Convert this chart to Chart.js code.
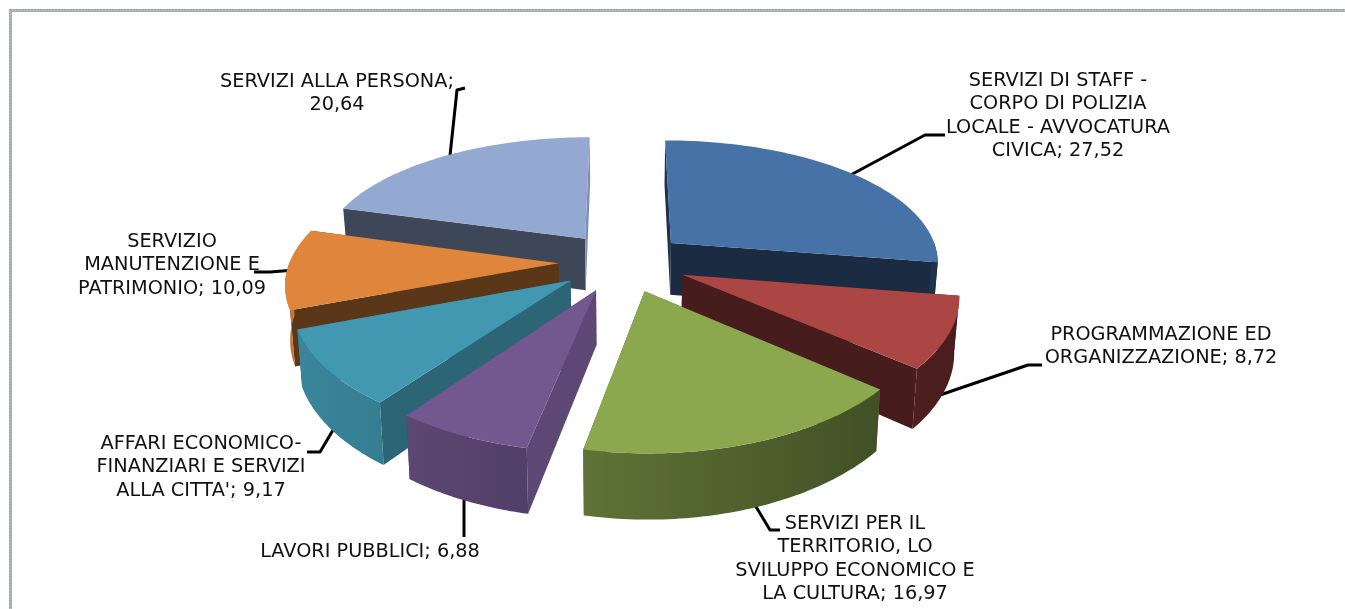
<!DOCTYPE html>
<html>
<head>
<meta charset="utf-8">
<title>Pie</title>
<script src="https://cdn.jsdelivr.net/npm/chart.js@4"></script>
<style>
    html, body { margin: 0; padding: 0; background: #fff; overflow: hidden; }
    canvas { display: block; }
</style>
</head>
<body>
<canvas id="pieCanvas" width="1345" height="609"></canvas>
<script>
const categories = [
    'SERVIZI DI STAFF - CORPO DI POLIZIA LOCALE - AVVOCATURA CIVICA',
    'PROGRAMMAZIONE ED ORGANIZZAZIONE',
    'SERVIZI PER IL TERRITORIO, LO SVILUPPO ECONOMICO E LA CULTURA',
    'LAVORI PUBBLICI',
    "AFFARI ECONOMICO-FINANZIARI E SERVIZI ALLA CITTA'",
    'SERVIZIO MANUTENZIONE E PATRIMONIO',
    'SERVIZI ALLA PERSONA'
];
const values = [27.52, 8.72, 16.97, 6.88, 9.17, 10.09, 20.64];
const colors = ['#4672a8', '#ab4644', '#8ba84f', '#72588f', '#4198b0', '#df853c', '#93a9d1'];

// how each label wraps, {v} is the value
const labelLines = [
    ['SERVIZI DI STAFF -', 'CORPO DI POLIZIA', 'LOCALE - AVVOCATURA', 'CIVICA; {v}'],
    ['PROGRAMMAZIONE ED', 'ORGANIZZAZIONE; {v}'],
    ['SERVIZI PER IL', 'TERRITORIO, LO', 'SVILUPPO ECONOMICO E', 'LA CULTURA; {v}'],
    ['LAVORI PUBBLICI; {v}'],
    ['AFFARI ECONOMICO-', 'FINANZIARI E SERVIZI', "ALLA CITTA'; {v}"],
    ['SERVIZIO', 'MANUTENZIONE E', 'PATRIMONIO; {v}'],
    ['SERVIZI ALLA PERSONA;', '{v}']
];
const labelPos = [[1058, 81], [1161, 335], [855, 524], [370, 552], [201, 444], [172, 242], [337, 82]];
const leaders = [
    [[845, 178], [925, 135], [945, 135]],
    [[940, 395], [1028, 365], [1042, 365]],
    [[752, 500], [770, 530], [780, 530]],
    [[464, 490], [464, 537]],
    [[336, 425], [320, 452], [307, 452]],
    [[295, 270], [270, 272], [254, 272]],
    [[449, 165], [457, 90], [465, 88]]
];
// shade of the two flat cut faces of each slice
const wallShade = [[0.45, 0.39], [0.41, 0.41], [0.6, 0.6], [0.82, 0.82], [0.67, 0.67], [0.41, 0.41], [0.42, 0.85]];
const drawOrder = [0, 6, 5, 1, 4, 2, 3];

const RX = 269, RY = 125, PERSP_X = 0.14, PERSP_Y = 0.1625, DEPTH = 53, SHRINK = 0.015;

function shade(hex, f) {
    let n = parseInt(hex.slice(1), 16);
    return `rgb(${Math.round((n >> 16) * f)},${Math.round(((n >> 8) & 255) * f)},${Math.round((n & 255) * f)})`;
}

function fillPoly(ctx, pts, fill) {
    ctx.beginPath();
    pts.forEach((p, i) => i ? ctx.lineTo(p[0], p[1]) : ctx.moveTo(p[0], p[1]));
    ctx.closePath();
    ctx.fillStyle = fill;
    ctx.fill();
}

const pie3d = {
    id: 'pie3d',
    beforeDatasetDraw(chart, args) {
        const ctx = chart.ctx;
        const arcs = args.meta.data;

        // frame of the screenshot
        ctx.save();
        ctx.strokeStyle = '#a3adad';
        ctx.lineWidth = 3;
        ctx.beginPath();
        ctx.moveTo(10.5, 609);
        ctx.lineTo(10.5, 10.5);
        ctx.lineTo(1345, 10.5);
        ctx.stroke();
        ctx.strokeStyle = '#c4d0d0';
        ctx.lineWidth = 1;
        ctx.setLineDash([1, 2]);
        ctx.stroke();
        ctx.restore();

        // leader lines go under the slices
        ctx.save();
        ctx.strokeStyle = '#000';
        ctx.lineWidth = 3;
        ctx.lineJoin = 'round';
        leaders.forEach(line => {
            ctx.beginPath();
            line.forEach((p, i) => i ? ctx.lineTo(p[0], p[1]) : ctx.moveTo(p[0], p[1]));
            ctx.stroke();
        });
        ctx.restore();

        drawOrder.forEach(i => {
            const el = arcs[i];
            const R = el.outerRadius;
            const mid = (el.startAngle + el.endAngle) / 2;
            const e = el.options.offset / R;
            const ox = Math.cos(mid) * e, oy = Math.sin(mid) * e;
            const project = (u, w, bottom) => {
                let x = el.x + RX * u / (1 - PERSP_X * w);
                let y = el.y + RY * w / (1 - PERSP_Y * w);
                if (bottom) {
                    x = el.x + (x - el.x) * (1 - SHRINK);
                    y += DEPTH / (1 - PERSP_Y * w);
                }
                return [x, y];
            };
            const rim = [], rimBottom = [], frontTop = [], frontBottom = [];
            for (let k = 0; k <= 60; k++) {
                let a = el.startAngle + (el.endAngle - el.startAngle) * k / 60;
                let top = project(ox + Math.cos(a), oy + Math.sin(a), false);
                let bot = project(ox + Math.cos(a), oy + Math.sin(a), true);
                rim.push(top);
                rimBottom.push(bot);
                // only the part of the rim that faces the viewer
                if (Math.sin(a) > -0.02) {
                    frontTop.push(top);
                    frontBottom.push(bot);
                }
            }
            const apex = project(ox, oy, false), apexBottom = project(ox, oy, true);
            const col = colors[i];

            fillPoly(ctx, [apex, rim[0], rimBottom[0], apexBottom], shade(col, wallShade[i][0]));
            fillPoly(ctx, [apex, rim[60], rimBottom[60], apexBottom], shade(col, wallShade[i][1]));

            if (frontTop.length > 1) {
                const grad = ctx.createLinearGradient(285, 0, 960, 0);
                grad.addColorStop(0, shade(col, 0.89));
                grad.addColorStop(1, shade(col, 0.42));
                fillPoly(ctx, frontTop.concat(frontBottom.reverse()), grad);
            }

            fillPoly(ctx, [apex].concat(rim), col);
        });

        ctx.save();
        ctx.fillStyle = '#111';
        ctx.font = '19.3px "DejaVu Sans"';
        ctx.textAlign = 'center';
        ctx.textBaseline = 'middle';
        labelLines.forEach((lines, i) => {
            const v = values[i].toFixed(2).replace('.', ',');
            lines.forEach((t, j) => {
                ctx.fillText(t.replace('{v}', v), labelPos[i][0], labelPos[i][1] + j * 23.3);
            });
        });
        ctx.restore();
        return false;
    }
};

new Chart(document.getElementById('pieCanvas'), {
    type: 'pie',
    data: {
        labels: categories,
        datasets: [{
            data: values,
            backgroundColor: colors,
            borderWidth: 0,
            offset: 56
        }]
    },
    options: {
        responsive: false,
        animation: false,
        layout: { padding: { right: 99, bottom: 85 } },
        plugins: {
            legend: { display: false },
            tooltip: { enabled: false }
        }
    },
    plugins: [pie3d]
});
</script>
</body>
</html>
